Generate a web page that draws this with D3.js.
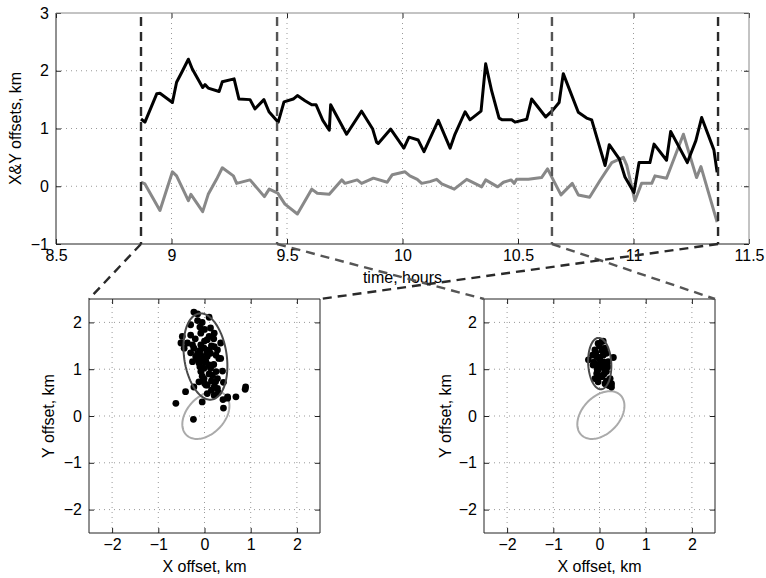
<!DOCTYPE html>
<html>
<head>
<meta charset="utf-8">
<script src="https://cdn.jsdelivr.net/npm/d3@7"></script>
<style>
body { margin: 0; background: #fff; }
svg text { font-family: "Liberation Sans", Arial, Helvetica, sans-serif; font-size: 16px; fill: #000; }
</style>
</head>
<body>
<script>
// time series (hours, km)
const timeBlack = [8.868, 8.885, 8.936, 8.950, 9.004, 9.022, 9.044, 9.073, 9.090, 9.135, 9.145, 9.159, 9.206, 9.220, 9.271, 9.292, 9.340, 9.361, 9.400, 9.422, 9.462, 9.487, 9.527, 9.545, 9.578, 9.607, 9.626, 9.655, 9.683, 9.689, 9.758, 9.823, 9.871, 9.888, 9.895, 9.949, 10.006, 10.028, 10.068, 10.093, 10.155, 10.206, 10.227, 10.271, 10.292, 10.340, 10.360, 10.386, 10.418, 10.432, 10.473, 10.487, 10.538, 10.559, 10.620, 10.649, 10.678, 10.696, 10.761, 10.797, 10.819, 10.877, 10.895, 10.939, 10.963, 11.002, 11.024, 11.071, 11.089, 11.143, 11.161, 11.233, 11.270, 11.295, 11.348, 11.362]
const offsetBlack = [1.165, 1.11, 1.60, 1.61, 1.45, 1.80, 1.97, 2.20, 2.03, 1.71, 1.76, 1.70, 1.64, 1.81, 1.86, 1.51, 1.50, 1.34, 1.50, 1.29, 1.11, 1.46, 1.51, 1.57, 1.48, 1.41, 1.41, 1.14, 0.97, 1.41, 0.90, 1.30, 0.99, 0.76, 0.74, 0.99, 0.66, 0.85, 0.80, 0.60, 1.14, 0.66, 0.90, 1.29, 1.15, 1.30, 2.12, 1.65, 1.18, 1.15, 1.15, 1.11, 1.16, 1.51, 1.20, 1.31, 1.45, 1.95, 1.28, 1.18, 1.15, 0.36, 0.72, 0.47, 0.16, -0.11, 0.41, 0.41, 0.73, 0.45, 0.95, 0.41, 0.79, 1.19, 0.63, 0.24]

const timeGray = [8.868, 8.885, 8.950, 9.004, 9.022, 9.073, 9.084, 9.135, 9.159, 9.195, 9.220, 9.268, 9.282, 9.340, 9.402, 9.423, 9.460, 9.491, 9.545, 9.607, 9.631, 9.683, 9.737, 9.751, 9.804, 9.823, 9.874, 9.934, 9.956, 10.011, 10.032, 10.064, 10.083, 10.119, 10.148, 10.170, 10.224, 10.278, 10.343, 10.360, 10.412, 10.437, 10.470, 10.484, 10.494, 10.545, 10.602, 10.628, 10.686, 10.735, 10.761, 10.810, 10.855, 10.906, 10.956, 10.971, 11.006, 11.035, 11.079, 11.093, 11.143, 11.216, 11.273, 11.292, 11.362]
const offsetGray = [0.07, 0.04, -0.42, 0.25, 0.18, -0.25, -0.14, -0.44, -0.14, 0.12, 0.32, 0.18, 0.05, 0.11, -0.18, -0.05, -0.12, -0.31, -0.48, -0.05, -0.12, -0.14, 0.11, 0.05, 0.11, 0.05, 0.14, 0.07, 0.20, 0.25, 0.18, 0.12, 0.05, 0.08, 0.12, 0.04, -0.05, 0.12, -0.01, 0.11, -0.01, 0.07, 0.11, 0.05, 0.12, 0.12, 0.15, 0.30, -0.15, 0.05, -0.15, -0.19, 0.10, 0.41, 0.50, 0.36, -0.25, 0.05, 0.05, 0.18, 0.14, 0.90, 0.15, 0.34, -0.62]

// the two time windows marked by dashed lines
const windowLeft = [8.868, 11.366]
const windowRight = [9.457, 10.647]

// scatter points, X offset / Y offset in km
const leftX = [-0.23, -0.15, 0.10, -0.15, -0.48, -0.51, -0.37, -0.30, -0.08, 0.13, 0.21, 0.35, -0.23, -0.01, 0.21, -0.19, 0.06, 0.35, -0.12, 0.10, 0.39, -0.08, 0.17, -0.01, 0.24, 0.06, -0.23, 0.41, -0.41, 0.89, 0.88, 0.68, 0.50, 0.41, -0.05, -0.62, -0.24, 0.06, 0.21, 0.28, -0.30, -0.26, -0.15, -0.05, 0.03, 0.13, 0.28, 0.31, -0.08, 0.06, -0.01, 0.13, 0.03, 0.21, -0.12, -0.44, -0.26, 0.28, -0.08, 0.10,
    -0.10, 0.00, 0.20, -0.20, 0.00, -0.10, 0.15, 0.05, -0.15, 0.20, 0.00, 0.10, -0.05, 0.25, 0.15, 0.00, -0.10, 0.25, -0.30, 0.10, -0.05, 0.30, 0.15, 0.40, 0.50]
const leftY = [2.22, 2.04, 2.11, 2.18, 1.70, 1.56, 1.56, 1.73, 1.77, 1.88, 1.77, 1.56, 1.45, 1.45, 1.48, 1.27, 1.27, 1.23, 1.13, 1.09, 0.96, 0.95, 0.87, 0.80, 0.73, 0.66, 0.62, 0.72, 0.52, 0.62, 0.57, 0.41, 0.41, 0.17, 0.30, 0.27, -0.07, 0.48, 0.44, 0.59, 1.95, 1.52, 1.34, 1.23, 1.16, 1.34, 1.41, 1.23, 1.52, 1.63, 1.02, 1.02, 0.66, 0.62, 0.73, 1.45, 1.16, 0.80, 1.30, 1.41,
    1.90, 1.85, 1.65, 1.65, 1.60, 1.40, 1.50, 1.35, 1.20, 1.10, 1.15, 0.90, 0.85, 0.95, 0.75, 0.70, 1.05, 1.30, 1.35, 1.70, 2.00, 0.50, 0.55, 0.35, 0.38]
const rightX = [-0.03, 0.05, -0.10, 0.12, -0.06, 0.08, -0.24, 0.30, 0.19, -0.03, -0.14, 0.10, -0.06, 0.05, 0.23, 0.26, 0.12, -0.03, -0.10, 0.15, 0.01, -0.10, 0.15, -0.03, 0.26,
    0.00, -0.08, 0.05, 0.00, -0.12, 0.10, 0.05, -0.05, 0.10, 0.00, 0.15, 0.20, -0.05, 0.18, -0.15, 0.08]
const rightY = [1.55, 1.59, 1.41, 1.45, 1.27, 1.30, 1.20, 1.25, 1.16, 1.09, 1.09, 1.02, 0.91, 0.84, 0.80, 0.69, 0.69, 0.73, 0.80, 0.95, 1.20, 1.32, 1.34, 0.98, 0.62,
    1.50, 1.35, 1.40, 1.25, 1.15, 1.15, 1.05, 1.00, 0.90, 0.85, 0.75, 0.65, 0.78, 1.05, 1.30, 1.60]

// ellipses: centre x, centre y, semi-major, semi-minor, angle (deg)
const leftEllipseDark = [0.02, 1.27, 0.93, 0.46, 98.5]
const rightEllipseDark = [0.005, 1.12, 0.55, 0.25, 93]
const ellipseLight = [0.03, 0.02, 0.60, 0.40, 45]

// ticks
const timeTicks = [8.5, 9, 9.5, 10, 10.5, 11, 11.5]
const offsetTicks = [-1, 0, 1, 2, 3]
const scatterTicks = [-2, -1, 0, 1, 2]

const svg = d3.select("body").append("svg")
    .attr("width", 766)
    .attr("height", 578)

const fmt = d3.format("")

// top panel scales
const x = d3.scaleLinear().domain([8.5, 11.5]).range([56, 749])
const y = d3.scaleLinear().domain([-1, 3]).range([244, 13])

// lower panel scales
const lx = d3.scaleLinear().domain([-2.5, 2.5]).range([89, 320])
const rx = d3.scaleLinear().domain([-2.5, 2.5]).range([484, 715])
const sy = d3.scaleLinear().domain([-2.5, 2.5]).range([533, 299])

function drawGrid(g, sx, sY, xt, yt) {
    let [x0, x1] = sx.range()
    let [y0, y1] = sY.range()
    g.selectAll(".gx")
        .data(xt.filter(d => sx(d) > x0 + 1 && sx(d) < x1 - 1))
        .join("line")
        .attr("x1", d => sx(d)).attr("x2", d => sx(d))
        .attr("y1", y0).attr("y2", y1)
        .attr("stroke", "#999")
        .attr("stroke-width", 1)
        .attr("stroke-dasharray", "1,4")
    g.selectAll(".gy")
        .data(yt.filter(d => sY(d) < y0 - 1 && sY(d) > y1 + 1))
        .join("line")
        .attr("x1", x0).attr("x2", x1)
        .attr("y1", d => sY(d)).attr("y2", d => sY(d))
        .attr("stroke", "#999")
        .attr("stroke-width", 1)
        .attr("stroke-dasharray", "1,4")
}

function drawFrame(g, sx, sY, xt, yt, farColor) {
    let [x0, x1] = sx.range()
    let [y0, y1] = sY.range()
    let bottom = g.append("g")
        .attr("transform", `translate(0,${y0})`)
        .call(d3.axisBottom(sx).tickValues(xt).tickSize(-5).tickSizeOuter(0).tickPadding(6).tickFormat(fmt))
    let left = g.append("g")
        .attr("transform", `translate(${x0},0)`)
        .call(d3.axisLeft(sY).tickValues(yt).tickSize(-5).tickSizeOuter(0).tickPadding(7).tickFormat(fmt))
    let top = g.append("g")
        .attr("transform", `translate(0,${y1})`)
        .call(d3.axisTop(sx).tickValues(xt).tickSize(-5).tickSizeOuter(0).tickFormat(""))
    let right = g.append("g")
        .attr("transform", `translate(${x1},0)`)
        .call(d3.axisRight(sY).tickValues(yt).tickSize(-5).tickSizeOuter(0).tickFormat(""))
    ;[bottom, left, top, right].forEach(a => {
        a.attr("color", "#222")
        a.select(".domain").remove()
        a.selectAll("text").attr("font-size", null).attr("font-family", null)
    })
    g.append("line").attr("x1", x0).attr("x2", x1).attr("y1", y0).attr("y2", y0).attr("stroke", "#222")
    g.append("line").attr("x1", x0).attr("x2", x0).attr("y1", y0).attr("y2", y1).attr("stroke", "#222")
    g.append("line").attr("x1", x0).attr("x2", x1).attr("y1", y1).attr("y2", y1).attr("stroke", farColor)
    g.append("line").attr("x1", x1).attr("x2", x1).attr("y1", y0).attr("y2", y1).attr("stroke", farColor)
}

function ellipsePath(sx, sY, e) {
    let [cx, cy, a, b, ang] = e
    let th = ang * Math.PI / 180
    let pts = d3.range(0, 2 * Math.PI + 0.01, Math.PI / 60).map(t => {
        let u = a * Math.cos(t), v = b * Math.sin(t)
        return [cx + u * Math.cos(th) - v * Math.sin(th), cy + u * Math.sin(th) + v * Math.cos(th)]
    })
    return d3.line().x(d => sx(d[0])).y(d => sY(d[1]))(pts)
}

// ---- top panel
let topG = svg.append("g")
drawGrid(topG, x, y, timeTicks, offsetTicks)

let gray = timeGray.map((t, i) => [t, offsetGray[i]])
let black = timeBlack.map((t, i) => [t, offsetBlack[i]])
let line = d3.line().x(d => x(d[0])).y(d => y(d[1]))

topG.append("path")
    .attr("d", line(gray))
    .attr("fill", "none")
    .attr("stroke", "#888")
    .attr("stroke-width", 3)
    .attr("stroke-linejoin", "round")
topG.append("path")
    .attr("d", line(black))
    .attr("fill", "none")
    .attr("stroke", "#000")
    .attr("stroke-width", 3)
    .attr("stroke-linejoin", "round")

drawFrame(topG, x, y, timeTicks, offsetTicks, "#888")

topG.append("text")
    .attr("x", (x.range()[0] + x.range()[1]) / 2)
    .attr("y", 283)
    .attr("text-anchor", "middle")
    .text("time, hours")
topG.append("text")
    .attr("transform", `translate(21,${(y.range()[0] + y.range()[1]) / 2}) rotate(-90)`)
    .attr("text-anchor", "middle")
    .text("X&Y offsets, km")

// ---- scatter panels
function scatterPanel(sx, xs, ys, darkE, labelX) {
    let g = svg.append("g")
    drawGrid(g, sx, sy, scatterTicks, scatterTicks)
    g.append("path")
        .attr("d", ellipsePath(sx, sy, ellipseLight))
        .attr("fill", "none")
        .attr("stroke", "#aaa")
        .attr("stroke-width", 2)
    g.selectAll("circle")
        .data(xs.map((v, i) => [v, ys[i]]))
        .join("circle")
        .attr("cx", d => sx(d[0]))
        .attr("cy", d => sy(d[1]))
        .attr("r", 3.4)
        .attr("fill", "#000")
    g.append("path")
        .attr("d", ellipsePath(sx, sy, darkE))
        .attr("fill", "none")
        .attr("stroke", "#4a4a4a")
        .attr("stroke-width", 2)
    drawFrame(g, sx, sy, scatterTicks, scatterTicks, "#222")
    g.append("text")
        .attr("x", (sx.range()[0] + sx.range()[1]) / 2)
        .attr("y", 572)
        .attr("text-anchor", "middle")
        .text("X offset, km")
    g.append("text")
        .attr("transform", `translate(${labelX},${(sy.range()[0] + sy.range()[1]) / 2}) rotate(-90)`)
        .attr("text-anchor", "middle")
        .text("Y offset, km")
}
scatterPanel(lx, leftX, leftY, leftEllipseDark, 54)
scatterPanel(rx, rightX, rightY, rightEllipseDark, 451)

// ---- dashed window markers and connectors
function windowMarks(win, sx, color) {
    let corners = [sx.range()[0], sx.range()[1]]
    win.forEach((t, i) => {
        svg.append("line")
            .attr("x1", x(t)).attr("x2", x(t))
            .attr("y1", y.range()[1] + 4).attr("y2", y.range()[0])
            .attr("stroke", color)
            .attr("stroke-width", 2.4)
            .attr("stroke-dasharray", "9,6")
        svg.append("line")
            .attr("x1", x(t)).attr("y1", y.range()[0])
            .attr("x2", corners[i]).attr("y2", sy.range()[1])
            .attr("stroke", color)
            .attr("stroke-width", 2.4)
            .attr("stroke-dasharray", "9,6")
    })
}
windowMarks(windowRight, rx, "#555")
windowMarks(windowLeft, lx, "#2a2a2a")
</script>
</body>
</html>
